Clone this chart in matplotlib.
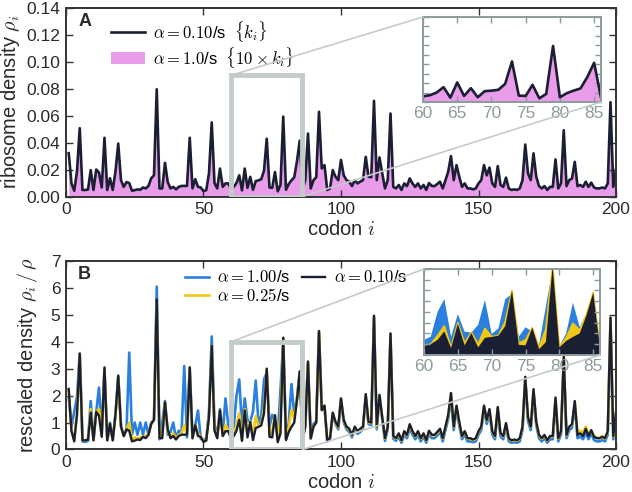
import numpy as np
import matplotlib
matplotlib.use('Agg')
import matplotlib.pyplot as plt
from matplotlib.patches import Rectangle, Patch, ConnectionPatch
from matplotlib.lines import Line2D

plt.rcParams['font.family'] = ['Liberation Sans', 'DejaVu Sans']
plt.rcParams['mathtext.fontset'] = 'cm'

# rescaled density rho_i/rho, codons 1..200
rescaled_010 = [
    2.25, 0.68, 0.30, 1.30, 3.55, 0.34, 0.34, 0.36, 1.37, 0.34,
    1.40, 1.25, 0.47, 3.05, 0.34, 0.95, 0.34, 1.30, 2.75, 0.85,
    0.50, 0.75, 0.70, 0.30, 0.33, 0.37, 0.35, 0.47, 0.42, 0.55,
    0.95, 1.10, 5.57, 0.42, 0.42, 1.75, 0.75, 0.42, 0.50, 0.37,
    0.50, 0.55, 0.55, 0.55, 3.05, 0.42, 0.90, 0.50, 0.47, 0.28,
    0.33, 1.20, 3.85, 0.70, 0.42, 1.45, 0.50, 0.68, 0.68, 0.42,
    0.50, 0.70, 1.10, 0.32, 1.45, 0.45, 1.02, 0.35, 0.80, 0.84,
    0.90, 1.34, 3.00, 0.47, 0.45, 1.27, 0.27, 0.60, 4.15, 0.35,
    0.65, 0.84, 1.00, 1.84, 2.90, 0.34, 0.85, 3.27, 0.42, 0.85,
    1.00, 4.40, 1.46, 1.63, 0.34, 0.42, 1.37, 1.03, 0.85, 1.90,
    1.10, 0.85, 0.77, 0.54, 0.85, 0.68, 0.77, 0.85, 2.06, 1.03,
    1.00, 4.97, 0.85, 2.03, 1.20, 0.42, 0.85, 4.31, 0.50, 0.42,
    0.60, 0.34, 0.68, 0.54, 0.94, 0.68, 0.50, 0.68, 0.42, 0.60,
    0.34, 0.70, 0.55, 0.54, 0.65, 0.77, 0.42, 0.85, 1.30, 2.10,
    0.85, 1.63, 1.03, 0.50, 0.68, 0.42, 0.42, 0.37, 0.42, 0.68,
    0.85, 1.63, 1.10, 1.50, 0.68, 0.50, 1.58, 0.60, 0.50, 0.98,
    0.42, 0.34, 0.37, 0.34, 0.42, 0.85, 2.70, 1.20, 0.85, 2.24,
    1.03, 0.54, 0.42, 0.54, 0.34, 0.50, 0.50, 1.93, 0.42, 0.68,
    3.44, 0.54, 0.85, 0.94, 1.80, 0.54, 0.60, 0.50, 0.77, 0.50,
    0.72, 0.47, 0.42, 0.42, 0.47, 0.42, 0.68, 4.90, 0.50, 1.40,
]
rescaled_100 = [
    1.95, 0.85, 1.40, 1.95, 3.58, 0.30, 0.28, 0.32, 1.80, 0.35,
    1.40, 2.30, 0.60, 3.00, 0.35, 1.00, 0.35, 1.30, 2.70, 0.90,
    0.50, 0.70, 3.60, 0.55, 1.00, 0.55, 1.00, 0.55, 1.00, 0.55,
    1.00, 1.10, 6.05, 0.38, 1.00, 1.80, 0.55, 0.65, 1.00, 0.40,
    0.70, 0.55, 3.10, 0.45, 3.05, 0.42, 0.90, 1.45, 0.40, 0.35,
    0.40, 1.40, 4.20, 0.95, 0.50, 1.50, 0.60, 1.90, 0.90, 0.70,
    0.85, 2.00, 2.60, 0.85, 1.90, 1.08, 1.04, 1.40, 2.56, 0.98,
    1.24, 2.60, 2.85, 0.85, 1.29, 1.08, 0.47, 2.25, 4.00, 0.42,
    1.00, 2.43, 1.30, 1.90, 2.87, 0.50, 0.85, 3.20, 0.40, 0.95,
    1.05, 4.35, 1.50, 1.60, 0.30, 0.38, 1.30, 0.95, 0.75, 1.85,
    1.00, 0.75, 0.65, 0.45, 0.75, 0.58, 0.65, 0.75, 1.95, 0.95,
    0.90, 4.90, 0.75, 1.95, 1.10, 0.32, 0.75, 4.25, 0.40, 0.32,
    0.48, 0.25, 0.55, 0.42, 0.80, 0.55, 0.38, 0.55, 0.30, 0.48,
    0.25, 0.58, 0.42, 0.42, 0.52, 0.65, 0.30, 0.72, 1.15, 1.95,
    0.72, 1.50, 0.90, 0.38, 0.55, 0.30, 0.30, 0.27, 0.30, 0.55,
    0.72, 1.48, 0.95, 1.35, 0.55, 0.38, 1.45, 0.48, 0.38, 0.85,
    0.30, 0.25, 0.27, 0.25, 0.30, 0.72, 2.55, 1.05, 0.72, 2.10,
    0.90, 0.42, 0.30, 0.42, 0.25, 0.38, 0.38, 1.80, 0.30, 0.55,
    3.30, 0.42, 0.72, 0.80, 1.65, 0.42, 0.48, 0.38, 0.62, 0.38,
    0.60, 0.35, 0.30, 0.30, 0.35, 0.30, 0.55, 4.75, 0.38, 1.30,
]
rescaled_025 = [
    2.20, 0.70, 0.35, 1.35, 3.55, 0.34, 0.34, 0.36, 1.50, 0.35,
    1.40, 1.50, 0.50, 3.00, 0.34, 0.95, 0.34, 1.30, 2.70, 0.85,
    0.50, 0.75, 1.00, 0.35, 0.45, 0.40, 0.45, 0.47, 0.50, 0.55,
    0.95, 1.10, 5.45, 0.42, 0.50, 1.75, 0.70, 0.45, 0.60, 0.40,
    0.55, 0.60, 0.90, 0.55, 3.05, 0.42, 0.90, 0.60, 0.47, 0.30,
    0.35, 1.25, 3.85, 0.75, 0.45, 1.45, 0.50, 0.90, 0.70, 0.45,
    0.50, 0.90, 1.35, 0.35, 1.50, 0.55, 1.05, 0.50, 1.24, 0.85,
    0.90, 1.55, 3.00, 0.55, 0.70, 1.27, 0.35, 1.20, 4.15, 0.38,
    0.80, 1.47, 1.15, 1.90, 2.90, 0.40, 0.85, 3.25, 0.42, 0.85,
    1.00, 4.40, 1.46, 1.63, 0.34, 0.42, 1.35, 1.00, 0.82, 1.88,
    1.08, 0.82, 0.74, 0.52, 0.82, 0.65, 0.74, 0.82, 2.03, 1.00,
    0.98, 4.95, 0.82, 2.00, 1.18, 0.40, 0.82, 4.30, 0.47, 0.40,
    0.58, 0.32, 0.66, 0.52, 0.92, 0.66, 0.48, 0.66, 0.40, 0.58,
    0.32, 0.68, 0.53, 0.52, 0.63, 0.75, 0.40, 0.83, 1.28, 2.08,
    0.83, 1.61, 1.01, 0.48, 0.66, 0.40, 0.40, 0.35, 0.40, 0.66,
    0.83, 1.61, 1.08, 1.48, 0.66, 0.48, 1.56, 0.58, 0.48, 0.96,
    0.40, 0.32, 0.35, 0.32, 0.40, 0.83, 2.68, 1.18, 0.83, 2.22,
    1.01, 0.52, 0.40, 0.52, 0.32, 0.48, 0.48, 1.91, 0.40, 0.66,
    3.42, 0.52, 0.83, 0.92, 1.78, 0.60, 0.70, 0.62, 0.85, 0.55,
    0.70, 0.50, 0.45, 0.40, 0.50, 0.40, 0.66, 4.88, 0.48, 1.38,
]
mean_density = 0.0143  # rho for alpha = 0.10/s
codon = np.arange(1, len(rescaled_010) + 1)
zoom_range = (60, 86)

c_black = '#1b1f33'
c_pink = '#e89ce9'
c_blue = '#2a80de'
c_yellow = '#f3c813'
c_box = '#c4ccc8'
c_inset = '#8d9b9b'
c_text = '#2a2a2a'

density_a = np.array(rescaled_010) * mean_density


def style_main(ax):
    for s in ax.spines.values():
        s.set_color('#333333')
        s.set_linewidth(1.4)
    ax.tick_params(direction='in', top=True, right=True, length=5, width=1,
                   colors='#333333', labelcolor=c_text, labelsize=12.5, pad=4)


def style_inset(ax):
    for s in ax.spines.values():
        s.set_color(c_inset)
        s.set_linewidth(1.4)
    ax.tick_params(direction='in', top=True, right=True, length=4, width=1,
                   colors=c_inset, labelcolor=c_inset, labelsize=12.5, pad=3)
    ax.set_xlim(zoom_range)
    ax.set_xticks([60, 65, 70, 75, 80, 85])
    ax.set_yticklabels([])


def add_zoom_box(fig, ax, axins, top):
    ax.add_patch(Rectangle((zoom_range[0], 0), zoom_range[1] - zoom_range[0], top,
                           fill=False, ec=c_box, lw=3.5, zorder=4))
    for xyA, xyB in [((zoom_range[0], top), (0, 1)), ((zoom_range[1], 0), (1, 0))]:
        con = ConnectionPatch(xyA=xyA, coordsA=ax.transData, xyB=xyB,
                              coordsB=axins.transAxes, color=c_box, lw=1.2, zorder=3)
        fig.add_artist(con)


fig = plt.figure(figsize=(6.32, 4.92), dpi=100)

# panel A
axA = fig.add_axes([0.1044, 0.6006, 0.8703, 0.3831])
axA.fill_between(codon, density_a, color=c_pink, lw=0)
axA.plot(codon, density_a, color=c_black, lw=1.9)
axA.set_xlim(0, 200)
axA.set_ylim(0, 0.14)
axA.set_yticks(np.arange(0, 0.141, 0.02))
axA.set_yticklabels(['%.2f' % v for v in np.arange(0, 0.141, 0.02)])
axA.set_xticks([0, 50, 100, 150, 200])
axA.set_xlabel(r'codon $i$', fontsize=14.5, color=c_text, labelpad=2)
axA.set_ylabel(r'ribosome density $\rho_i$', fontsize=14.5, color=c_text, labelpad=3)
style_main(axA)
axA.text(0.022, 0.905, 'A', transform=axA.transAxes, fontsize=13, fontweight='bold', color=c_text)
hA = [Line2D([], [], color=c_black, lw=1.9), Patch(facecolor=c_pink, lw=0)]
axA.legend(hA, [r'$\alpha=0.10$/s  $\{k_i\}$', r'$\alpha=1.0$/s  $\{10\times k_i\}$'],
           loc='upper left', bbox_to_anchor=(0.055, 1.02), frameon=False, fontsize=12,
           handlelength=2.0, handletextpad=0.5, labelspacing=0.02)

insA = fig.add_axes([0.6693, 0.7927, 0.2816, 0.1728])
insA.fill_between(codon, density_a, color=c_pink, lw=0)
insA.plot(codon, density_a, color=c_black, lw=1.9)
insA.set_ylim(0, 0.09)
insA.set_yticks(np.arange(0, 0.091, 0.01))
style_inset(insA)
add_zoom_box(fig, axA, insA, 0.09)

# panel B
axB = fig.add_axes([0.1044, 0.0864, 0.8703, 0.3831])
axB.plot(codon, rescaled_100, color=c_blue, lw=1.9, label=r'$\alpha=1.00$/s')
axB.plot(codon, rescaled_025, color=c_yellow, lw=1.9, label=r'$\alpha=0.25$/s')
axB.plot(codon, rescaled_010, color=c_black, lw=1.7, label=r'$\alpha=0.10$/s')
axB.set_xlim(0, 200)
axB.set_ylim(0, 7)
axB.set_yticks(range(8))
axB.set_xticks([0, 50, 100, 150, 200])
axB.set_xlabel(r'codon $i$', fontsize=14.5, color=c_text, labelpad=2)
axB.set_ylabel(r'rescaled density $\rho_i\,/\,\rho$', fontsize=14.5, color=c_text, labelpad=8)
style_main(axB)
axB.text(0.022, 0.905, 'B', transform=axB.transAxes, fontsize=13, fontweight='bold', color=c_text)
axB.legend(loc='upper left', bbox_to_anchor=(0.19, 1.035), ncol=2, frameon=False, fontsize=12,
           handlelength=1.4, handletextpad=0.5, labelspacing=0.1, columnspacing=0.7)

insB = fig.add_axes([0.6709, 0.2785, 0.2785, 0.1748])
insB.fill_between(codon, rescaled_100, color=c_blue, lw=0)
insB.fill_between(codon, rescaled_025, color=c_yellow, ec=c_yellow, lw=1.2)
insB.fill_between(codon, rescaled_010, color=c_black, lw=0)
insB.set_ylim(0, 4)
insB.set_yticks(np.arange(0, 4.01, 0.5))
style_inset(insB)
add_zoom_box(fig, axB, insB, 4.0)

fig.savefig('out.png', dpi=100)
